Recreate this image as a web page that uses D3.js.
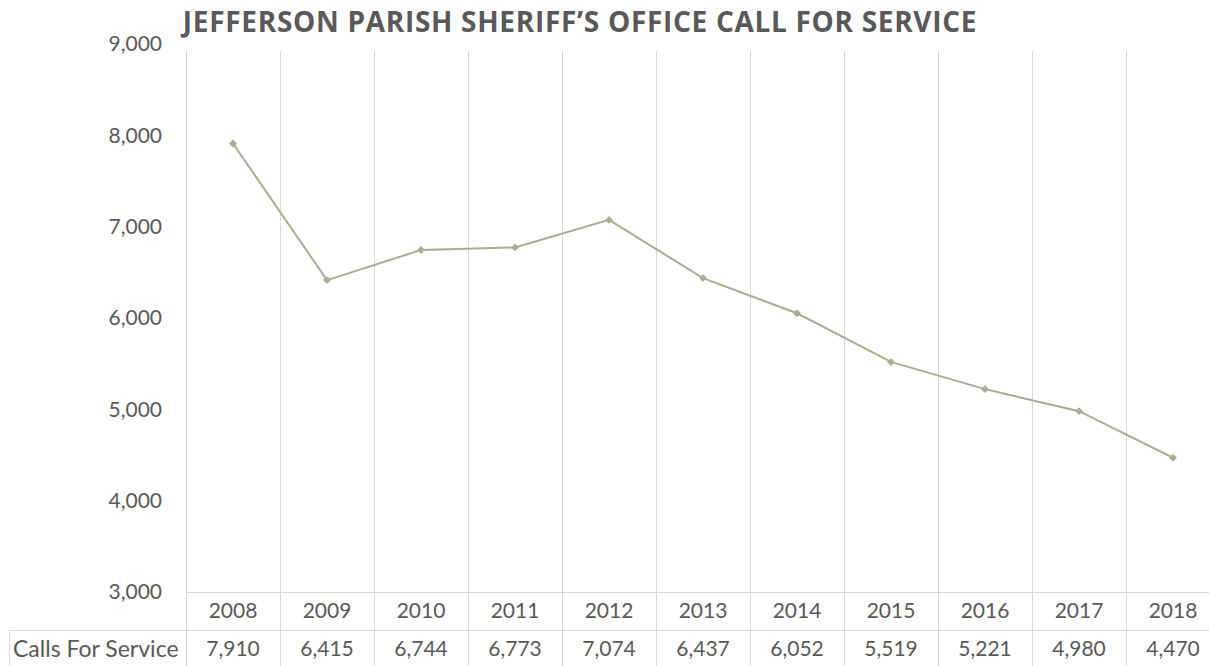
<!DOCTYPE html>
<html>
<head>
<meta charset="utf-8">
<script src="https://cdn.jsdelivr.net/npm/d3@7"></script>
<style>
  body { margin: 0; background: #fff; overflow: hidden; }
  text { font-family: Lato, "Open Sans", sans-serif; fill: #595959; }
</style>
</head>
<body>
<div id="chart"></div>
<script>
const title = "JEFFERSON PARISH SHERIFF\u2019S OFFICE CALL FOR SERVICE";
const seriesName = "Calls For Service";
const years = ["2008", "2009", "2010", "2011", "2012", "2013", "2014", "2015", "2016", "2017", "2018"];
const calls = [7910, 6415, 6744, 6773, 7074, 6437, 6052, 5519, 5221, 4980, 4470];
const yTicks = [3000, 4000, 5000, 6000, 7000, 8000, 9000];

const width = 1209, height = 666;
const plotLeft = 186, step = 94;
const plotTop = 44, axisY = 592, row2 = 630, plotBottom = 672;

const svg = d3.select("#chart")
    .append("svg")
    .attr("width", width)
    .attr("height", height);

const x = d3.scaleBand()
    .domain(years)
    .range([plotLeft, plotLeft + step * years.length])
    .paddingInner(0)
    .paddingOuter(0);

const y = d3.scaleLinear()
    .domain([3000, 9000])
    .range([axisY, plotTop]);

const fmt = d3.format(",");
const grid = "#d9d9d9";

// vertical category borders
svg.append("g")
    .selectAll("line")
    .data(years.concat(["end"]))
    .join("line")
    .attr("x1", (d, i) => plotLeft + i * step + 0.5)
    .attr("x2", (d, i) => plotLeft + i * step + 0.5)
    .attr("y1", plotTop + 7)
    .attr("y2", plotBottom)
    .attr("stroke", grid)
    .attr("stroke-width", 1);

// table horizontal lines
svg.append("line")
    .attr("x1", plotLeft).attr("x2", width)
    .attr("y1", axisY + 0.5).attr("y2", axisY + 0.5)
    .attr("stroke", grid);
svg.append("line")
    .attr("x1", 9).attr("x2", width)
    .attr("y1", row2 + 0.5).attr("y2", row2 + 0.5)
    .attr("stroke", grid);
svg.append("line")
    .attr("x1", 9.5).attr("x2", 9.5)
    .attr("y1", row2).attr("y2", plotBottom)
    .attr("stroke", grid);

// y axis labels
const yAxis = d3.axisLeft(y)
    .tickValues(yTicks)
    .tickFormat(fmt)
    .tickSize(0)
    .tickPadding(0);

const ya = svg.append("g")
    .attr("transform", "translate(162,0)")
    .call(yAxis);
ya.select(".domain").remove();
ya.selectAll("text")
    .style("font-family", "Lato, sans-serif")
    .style("font-size", "21px")
    .attr("fill", "#595959");

// title
svg.append("text")
    .attr("x", 580)
    .attr("y", 32)
    .attr("text-anchor", "middle")
    .style("font-family", "'Open Sans', sans-serif")
    .style("font-weight", "bold")
    .style("font-size", "28px")
    .style("letter-spacing", "0.7px")
    .text(title);

// line
const line = d3.line()
    .x((d, i) => x(years[i]) + x.bandwidth() / 2)
    .y(d => y(d));

const lineColor = "#aeac8e";

svg.append("path")
    .datum(calls)
    .attr("fill", "none")
    .attr("stroke", lineColor)
    .attr("stroke-width", 2)
    .attr("d", line);

svg.append("g")
    .selectAll("path")
    .data(calls)
    .join("path")
    .attr("d", d3.symbol().type(d3.symbolDiamond2).size(40))
    .attr("transform", (d, i) => `translate(${x(years[i]) + x.bandwidth() / 2},${y(d)})`)
    .attr("fill", lineColor);

// data table
svg.append("g")
    .selectAll("text")
    .data(years)
    .join("text")
    .attr("x", d => x(d) + x.bandwidth() / 2)
    .attr("y", (axisY + row2) / 2)
    .attr("dy", "0.35em")
    .attr("text-anchor", "middle")
    .style("font-size", "21px")
    .text(d => d);

svg.append("g")
    .selectAll("text")
    .data(calls)
    .join("text")
    .attr("x", (d, i) => x(years[i]) + x.bandwidth() / 2)
    .attr("y", 649)
    .attr("dy", "0.35em")
    .attr("text-anchor", "middle")
    .style("font-size", "21px")
    .text(d => fmt(d));

svg.append("text")
    .attr("x", 13)
    .attr("y", 649)
    .attr("dy", "0.35em")
    .style("font-size", "23px")
    .text(seriesName);
</script>
</body>
</html>
